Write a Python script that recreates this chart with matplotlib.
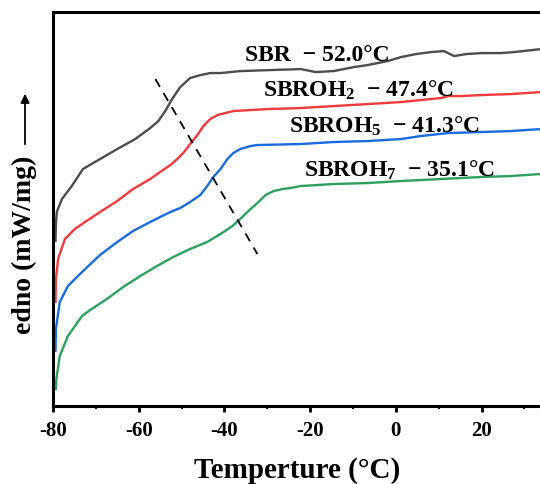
import matplotlib
matplotlib.use("Agg")
import matplotlib.pyplot as plt
from matplotlib.ticker import MultipleLocator

plt.rcParams['font.family'] = ['Liberation Serif', 'DejaVu Serif']
plt.rcParams['font.weight'] = 'bold'
plt.rcParams['mathtext.fontset'] = 'custom'
plt.rcParams['mathtext.rm'] = 'Liberation Serif:bold'
plt.rcParams['mathtext.it'] = 'Liberation Serif:bold'
plt.rcParams['mathtext.bf'] = 'Liberation Serif:bold'
plt.rcParams['mathtext.default'] = 'rm'
plt.rcParams['axes.unicode_minus'] = False

# DSC curves (arbitrary heat-flow units)
sbr_t = [-79.4, -79.3, -79.1, -77.9, -75.6, -73.0, -69.0, -65.0,
         -60.8, -57.3, -55.4, -53.8, -52.2, -50.3, -48.0, -45.6, -43.3, -40.9,
         -36.3, -29.2, -22.2, -18.7, -14.5, -9.8, -6.6, -1.9, 1.2, 4.7,
         8.2, 11.2, 13.6, 16.4, 19.9, 24.6, 27.6, 33.9]
sbr_y = [165, 182, 194, 207, 220, 237, 247, 257,
         267, 278, 285, 295, 307, 319, 328, 331, 333, 333,
         335, 336, 337, 334, 335, 339, 341, 345, 349, 352,
         354, 355, 350, 352, 353, 353, 354, 357]

oh2_t = [-79.4, -79.3, -78.8, -77.2, -74.9, -72.5, -69.0,
         -65.0, -61.3, -57.3, -55.0, -52.6, -51.0, -49.4, -48.0, -46.3, -44.9,
         -43.3, -41.6, -39.8, -37.9, -29.9, -22.2, -14.5, -6.5, 1.2, 5.8,
         10.5, 12.2, 15.2, 19.9, 26.9, 33.9]
oh2_y = [104, 127, 147, 167, 177, 184, 194,
         205, 217, 227, 234, 241, 247, 254, 262, 271, 280,
         287, 291, 293, 295, 297, 298, 300, 302, 304, 306,
         308, 310, 310, 311, 312, 314]

oh5_t = [-79.4, -79.3, -78.4, -76.5, -73.2, -69.0, -65.0,
         -61.3, -57.3, -55.0, -52.6, -50.3, -48.0, -45.6, -44.0, -42.6, -40.9,
         -39.3, -37.9, -36.3, -33.9, -32.3, -22.2, -14.5, -6.5, 1.2, 5.8,
         12.2, 19.9, 26.9, 33.9]
oh5_y = [55, 77, 104, 120, 134, 151, 164,
         175, 184, 189, 194, 198, 204, 211, 220, 229, 237,
         247, 253, 257, 260, 261, 262, 264, 265, 267, 270,
         273, 274, 275, 277]

oh7_t = [-79.3, -79.2, -78.4, -76.5, -73.2, -71.3, -67.4,
         -63.6, -59.6, -55.7, -51.9, -48.0, -44.0, -42.1, -40.2, -38.1, -36.3,
         -34.4, -32.3, -30.4, -28.5, -26.4, -24.6, -22.2, -14.5, -6.5, 1.2,
         10.5, 19.9, 26.9, 33.9]
oh7_y = [17, 27, 50, 70, 90, 96, 107,
         119, 130, 140, 149, 157, 164, 169, 174, 180, 187,
         195, 203, 211, 215, 217, 218, 220, 222, 223, 225,
         227, 229, 230, 232]

# Tg guide line
tg_t = [-56.1, -32.3]
tg_y = [327, 152]

labels = ['SBR  − 52.0°C', 'SBROH$_2$  − 47.4°C',
          'SBROH$_5$  − 41.3°C', 'SBROH$_7$  − 35.1°C']
label_pos = [(-35.1, 346), (-30.9, 310), (-25.0, 274), (-21.5, 230)]

fig = plt.figure(figsize=(5.4, 4.85), dpi=100)
ax = fig.add_axes([0.098, 0.161, 0.905, 0.812])

ax.plot(sbr_t, sbr_y, color='#4d4d4d', lw=1.7)
ax.plot(oh2_t, oh2_y, color='#f03a3c', lw=1.7)
ax.plot(oh5_t, oh5_y, color='#1a6ae0', lw=1.7)
ax.plot(oh7_t, oh7_y, color='#2ea05e', lw=1.7)
ax.plot(tg_t, tg_y, color='black', lw=1.3, dashes=(5, 4))

for s, (x, y) in zip(labels, label_pos):
    ax.text(x, y, s, fontsize=17, fontweight='bold', va='baseline', ha='left')

ax.set_xlim(-80, 34)
ax.set_ylim(0, 394)
ax.xaxis.set_major_locator(MultipleLocator(20))
ax.xaxis.set_minor_locator(MultipleLocator(10))
ax.set_yticks([])
ax.tick_params(axis='x', which='major', direction='out', length=4, width=2,
               labelsize=15, pad=6)
ax.tick_params(axis='x', which='minor', direction='out', length=2.5, width=1.5)
for lbl in ax.get_xticklabels():
    lbl.set_fontweight('bold')
for sp in ax.spines.values():
    sp.set_linewidth(2.2)
ax.spines['right'].set_visible(False)

ax.set_xlabel('Temperture (°C)', fontsize=21, fontweight='bold', labelpad=12)
fig.text(0.046, 0.495, 'edno (mW/mg)', rotation=90, fontsize=20,
         fontweight='bold', ha='center', va='center')
ax.annotate('', xy=(25, 393), xycoords='figure pixels', xytext=(25, 337),
            textcoords='figure pixels',
            arrowprops=dict(arrowstyle='-|>', color='black', lw=1.3,
                            mutation_scale=13))

fig.savefig('out.png', dpi=100)
